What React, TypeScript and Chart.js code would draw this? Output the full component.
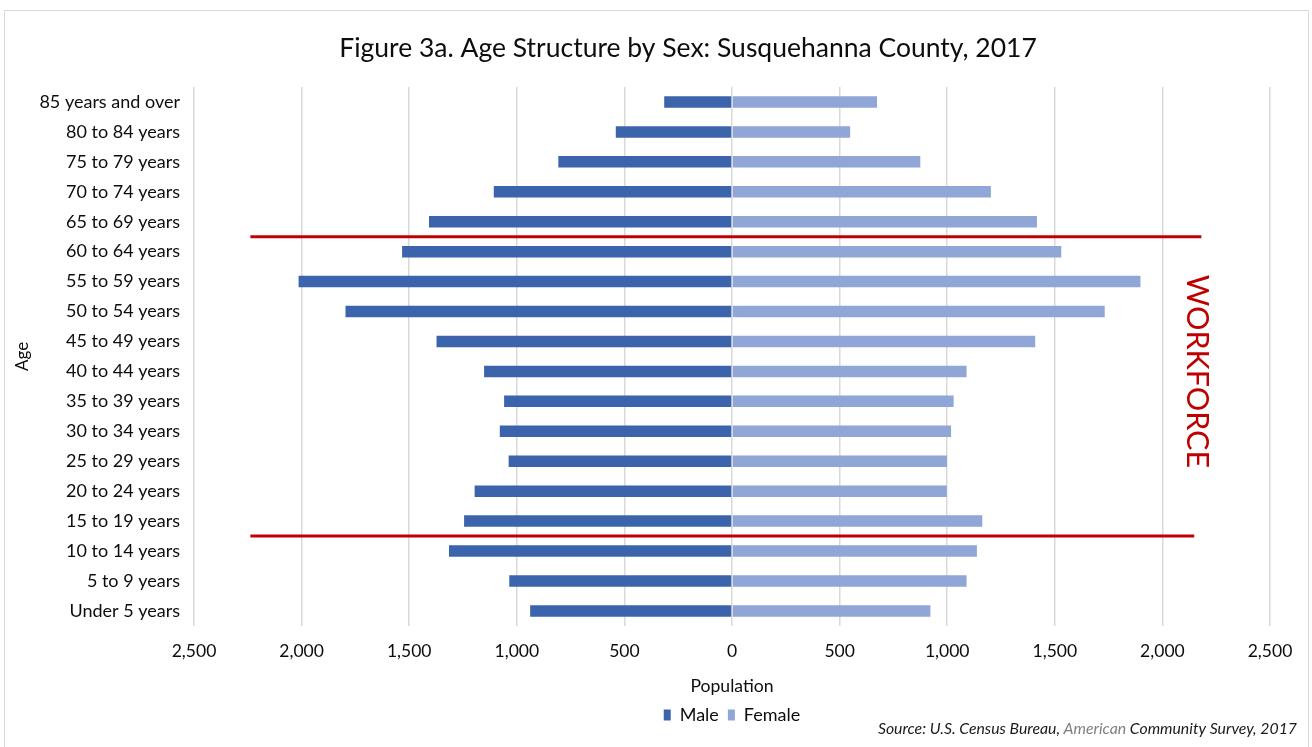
import React, { useEffect, useRef } from 'react';
import { Chart, registerables } from 'chart.js';

Chart.register(...registerables);

const ageGroups = [
  '85 years and over',
  '80 to 84 years',
  '75 to 79 years',
  '70 to 74 years',
  '65 to 69 years',
  '60 to 64 years',
  '55 to 59 years',
  '50 to 54 years',
  '45 to 49 years',
  '40 to 44 years',
  '35 to 39 years',
  '30 to 34 years',
  '25 to 29 years',
  '20 to 24 years',
  '15 to 19 years',
  '10 to 14 years',
  '5 to 9 years',
  'Under 5 years',
];

const maleValues = [315, 540, 807, 1107, 1408, 1533, 2014, 1796, 1373, 1152, 1059, 1079, 1038, 1196, 1245, 1315, 1035, 938];
const femaleValues = [674, 549, 875, 1203, 1417, 1530, 1898, 1732, 1409, 1090, 1030, 1018, 999, 998, 1163, 1138, 1090, 922];

const xMin = -2500;
const xMax = 2500;
const xStep = 500;

// Workforce bracket lines: drawn between category (index) and (index + 1)
const workforceBoundaryAfter = [4, 14];
const workforceLineStart = [-2238, -2238];
const workforceLineEnd = [2181, 2148];
const workforceLabel = 'WORKFORCE';
const workforceLabelX = 2158;
const workforceLabelIndex = 9;

const chartTitle = 'Figure 3a. Age Structure by Sex: Susquehanna County, 2017';
const sourceParts = [
  { text: 'Source: U.S. Census Bureau, ', color: '#1a1a1a' },
  { text: 'American', color: '#7f7f7f' },
  { text: ' Community Survey, 2017', color: '#1a1a1a' },
];

const FONT = "Lato, 'Open Sans', sans-serif";
const TEXT = '#0d0d0d';
const MALE = '#3C64AD';
const FEMALE = '#8FA6D6';
const RED = '#C00000';

const overlayPlugin = {
  id: 'overlay',
  beforeDraw(chart: any) {
    const { ctx } = chart;
    ctx.save();
    ctx.strokeStyle = '#d9d9d9';
    ctx.lineWidth = 1;
    ctx.strokeRect(4.5, 10.5, 1304, 760);
    // title
    ctx.fillStyle = TEXT;
    ctx.font = `26.5px ${FONT}`;
    ctx.textAlign = 'center';
    ctx.textBaseline = 'middle';
    ctx.fillText(chartTitle, 688, 48);
    ctx.restore();
  },
  afterDatasetsDraw(chart: any) {
    const { ctx, scales } = chart;
    const xs = scales.x;
    const ys = scales.y;
    ctx.save();
    ctx.strokeStyle = RED;
    ctx.lineWidth = 3;
    ctx.lineCap = 'butt';
    workforceBoundaryAfter.forEach((idx, i) => {
      const y = (ys.getPixelForValue(idx) + ys.getPixelForValue(idx + 1)) / 2;
      ctx.beginPath();
      ctx.moveTo(xs.getPixelForValue(workforceLineStart[i]), y);
      ctx.lineTo(xs.getPixelForValue(workforceLineEnd[i]), y);
      ctx.stroke();
    });
    // WORKFORCE label (rotated, reading top to bottom)
    const lx = xs.getPixelForValue(workforceLabelX);
    const ly = ys.getPixelForValue(workforceLabelIndex);
    ctx.translate(lx, ly);
    ctx.rotate(Math.PI / 2);
    ctx.fillStyle = RED;
    ctx.font = `30.5px ${FONT}`;
    ctx.textAlign = 'center';
    ctx.textBaseline = 'middle';
    ctx.fillText(workforceLabel, 0, 0);
    ctx.restore();
  },
  afterDraw(chart: any) {
    const { ctx } = chart;
    ctx.save();
    ctx.font = `italic 15.8px ${FONT}`;
    ctx.textBaseline = 'middle';
    ctx.textAlign = 'left';
    const total = sourceParts.reduce((s, p) => s + ctx.measureText(p.text).width, 0);
    let x = 1297 - total;
    const y = 729;
    sourceParts.forEach((p) => {
      ctx.fillStyle = p.color;
      ctx.fillText(p.text, x, y);
      x += ctx.measureText(p.text).width;
    });
    ctx.restore();
  },
};

export default function App() {
  const canvasRef = useRef<HTMLCanvasElement | null>(null);

  useEffect(() => {
    if (!canvasRef.current) return;
    const chart = new Chart(canvasRef.current, {
      type: 'bar',
      data: {
        labels: ageGroups,
        datasets: [
          {
            label: 'Male',
            data: maleValues.map((v) => -v),
            backgroundColor: MALE,
            borderWidth: 0,
            barPercentage: 0.48,
            categoryPercentage: 0.8,
          },
          {
            label: 'Female',
            data: femaleValues,
            backgroundColor: FEMALE,
            borderWidth: 0,
            barPercentage: 0.48,
            categoryPercentage: 0.8,
          },
        ],
      },
      options: {
        indexAxis: 'y',
        animation: false,
        responsive: true,
        maintainAspectRatio: false,
        layout: { padding: { left: 8, right: 42, top: 87, bottom: 13 } },
        scales: {
          x: {
            stacked: true,
            min: xMin,
            max: xMax,
            border: { display: false },
            grid: { color: '#d9d9d9', lineWidth: 1.5, drawTicks: false },
            ticks: {
              stepSize: xStep,
              padding: 14.5,
              color: TEXT,
              font: { family: FONT, size: 17.5 },
              callback: (v: any) => Math.abs(Number(v)).toLocaleString('en-US'),
            },
            title: {
              display: true,
              text: 'Population',
              color: TEXT,
              font: { family: FONT, size: 17.6 },
              padding: { top: 0, bottom: 0 },
            },
          },
          y: {
            stacked: true,
            border: { display: false },
            grid: { display: false, drawTicks: false },
            ticks: {
              padding: 14,
              color: TEXT,
              font: { family: FONT, size: 18 },
            },
            title: {
              display: true,
              text: 'Age',
              color: TEXT,
              font: { family: FONT, size: 17 },
              padding: { top: 4, bottom: 0 },
            },
            afterFit: (scale: any) => {
              scale.width = 186;
            },
          },
        },
        plugins: {
          title: { display: false },
          legend: {
            display: true,
            position: 'bottom',
            fullSize: false,
            labels: {
              color: TEXT,
              font: { family: FONT, size: 18 },
              boxWidth: 7,
              boxHeight: 11,
              padding: 9,
            },
          },
          tooltip: { enabled: false },
        },
      },
      plugins: [overlayPlugin],
    });
    return () => chart.destroy();
  }, []);

  return (
    <div style={{ position: 'fixed', left: 0, top: 0, width: 1312, height: 747, background: '#fff' }}>
      <canvas ref={canvasRef} style={{ width: '100%', height: '100%' }} />
    </div>
  );
}
